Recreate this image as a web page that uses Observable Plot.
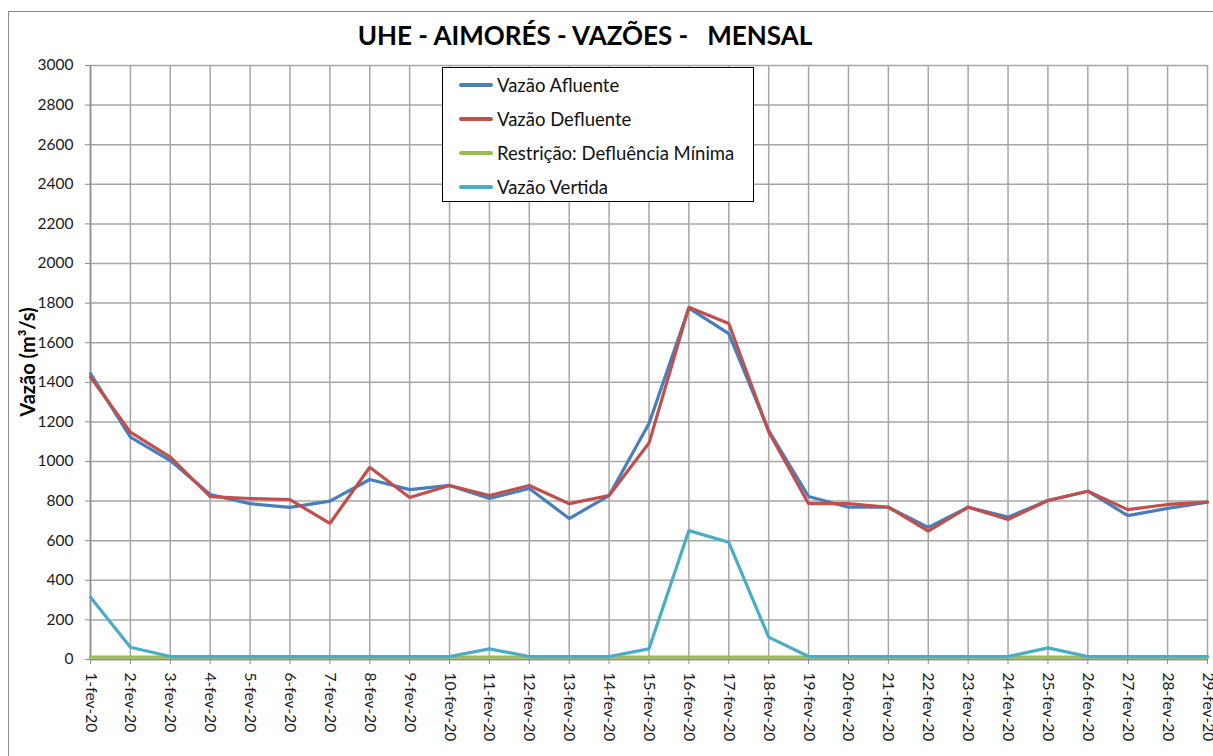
<!DOCTYPE html>
<html>
<head>
<meta charset="utf-8">
<script src="https://cdn.jsdelivr.net/npm/d3@7"></script>
<script src="https://cdn.jsdelivr.net/npm/@observablehq/plot@0.6"></script>
<style>
  html, body { margin: 0; padding: 0; background: #fff; }
  body { width: 1213px; height: 756px; overflow: hidden; position: relative; font-family: Lato, "Open Sans", sans-serif; }
  #frame { position: absolute; left: 8px; top: 11px; width: 1220px; height: 800px; border: 1px solid #8c8c8c; box-sizing: border-box; }
  #chart { position: absolute; left: 0; top: 0; }
  #title { position: absolute; left: 0; width: 1170px; top: 19px; text-align: center; font-weight: bold; font-size: 26px; white-space: pre; color: #000; }
  #ylabel { position: absolute; left: 27px; top: 362px; transform: translate(-50%, -50%) rotate(-90deg); font-weight: bold; font-size: 20px; white-space: nowrap; color: #000; }
  #legend { position: absolute; left: 442px; top: 67px; width: 312px; height: 135px; border: 1px solid #000; background: #fff; box-sizing: border-box; }
  .row { position: absolute; left: 16px; height: 22px; display: flex; align-items: center; font-size: 18.5px; color: #111; white-space: nowrap; }
  .sw { width: 34px; height: 4px; margin-right: 4px; border-radius: 2px; }
</style>
</head>
<body>
<div id="frame"></div>
<div id="chart"></div>
<div id="title">UHE - AIMORÉS - VAZÕES -   MENSAL</div>
<div id="ylabel">Vazão (m³/s)</div>
<div id="legend"></div>
<script>
const dates = ["1-fev-20","2-fev-20","3-fev-20","4-fev-20","5-fev-20","6-fev-20","7-fev-20","8-fev-20","9-fev-20","10-fev-20",
  "11-fev-20","12-fev-20","13-fev-20","14-fev-20","15-fev-20","16-fev-20","17-fev-20","18-fev-20","19-fev-20","20-fev-20",
  "21-fev-20","22-fev-20","23-fev-20","24-fev-20","25-fev-20","26-fev-20","27-fev-20","28-fev-20","29-fev-20"];
const afluente = [1444,1123,1005,833,787,768,800,909,858,879,813,864,712,828,1192,1775,1646,1156,823,769,769,667,769,719,803,850,727,763,795];
const defluente = [1426,1148,1022,823,813,808,687,971,818,879,828,879,787,828,1093,1779,1697,1150,787,787,769,648,769,707,803,850,757,783,795];
const restricao = [12,12,12,12,12,12,12,12,12,12,12,12,12,12,12,12,12,12,12,12,12,12,12,12,12,12,12,12,12];
const vertida = [315,62,15,15,15,15,15,15,15,15,54,15,15,15,54,651,592,113,15,15,15,15,15,15,59,15,15,15,15];
const yTicks = [0,200,400,600,800,1000,1200,1400,1600,1800,2000,2200,2400,2600,2800,3000];

const seriesNames = ["Vazão Afluente","Vazão Defluente","Restrição: Defluência Mínima","Vazão Vertida"];
const seriesColors = ["#4a7ebb","#c0504d","#9bbb59","#4bacc6"];
const seriesValues = [afluente, defluente, restricao, vertida];

const rows = [];
seriesValues.forEach((vals, si) => vals.forEach((v, i) => rows.push({series: seriesNames[si], date: dates[i], value: v})));

const grid = "#a6a6a6";
const chart = Plot.plot({
  width: 1213,
  height: 756,
  marginLeft: 90,
  marginRight: 6,
  marginTop: 65,
  marginBottom: 97,
  style: {background: "transparent", fontFamily: "Lato, 'Open Sans', sans-serif", fontSize: "15px", color: "#1a1a1a"},
  x: {type: "point", domain: dates, padding: 0, round: false},
  y: {domain: [0, 3000]},
  color: {domain: seriesNames, range: seriesColors},
  marks: [
    Plot.ruleY(yTicks, {stroke: grid, strokeWidth: 1.5}),
    Plot.ruleX(dates, {stroke: grid, strokeWidth: 1.5}),
    Plot.axisY({ticks: yTicks, tickFormat: d => String(d), tickSize: 5, tickPadding: 12, label: null, stroke: "#8c8c8c", fontSize: 15.5}),
    Plot.axisX({tickRotate: 90, tickSize: 5, tickPadding: 8, label: null, stroke: "#8c8c8c", fontSize: 15.5}),
    Plot.ruleX([dates[0]], {stroke: "#8c8c8c", strokeWidth: 1.5}),
    Plot.ruleY([0], {stroke: "#8c8c8c", strokeWidth: 1.5}),
    ...seriesNames.map(name => Plot.line(rows.filter(r => r.series === name), {x: "date", y: "value", stroke: "series", strokeWidth: 3.2, strokeLinejoin: "miter"}))
  ]
});
document.getElementById("chart").appendChild(chart);

const legend = document.getElementById("legend");
const rowTops = [6, 40, 74, 108];
seriesNames.forEach((n, i) => {
  const r = document.createElement("div");
  r.className = "row";
  r.style.top = rowTops[i] + "px";
  r.innerHTML = `<span class="sw" style="background:${seriesColors[i]}"></span><span>${n}</span>`;
  legend.appendChild(r);
});
</script>
</body>
</html>
